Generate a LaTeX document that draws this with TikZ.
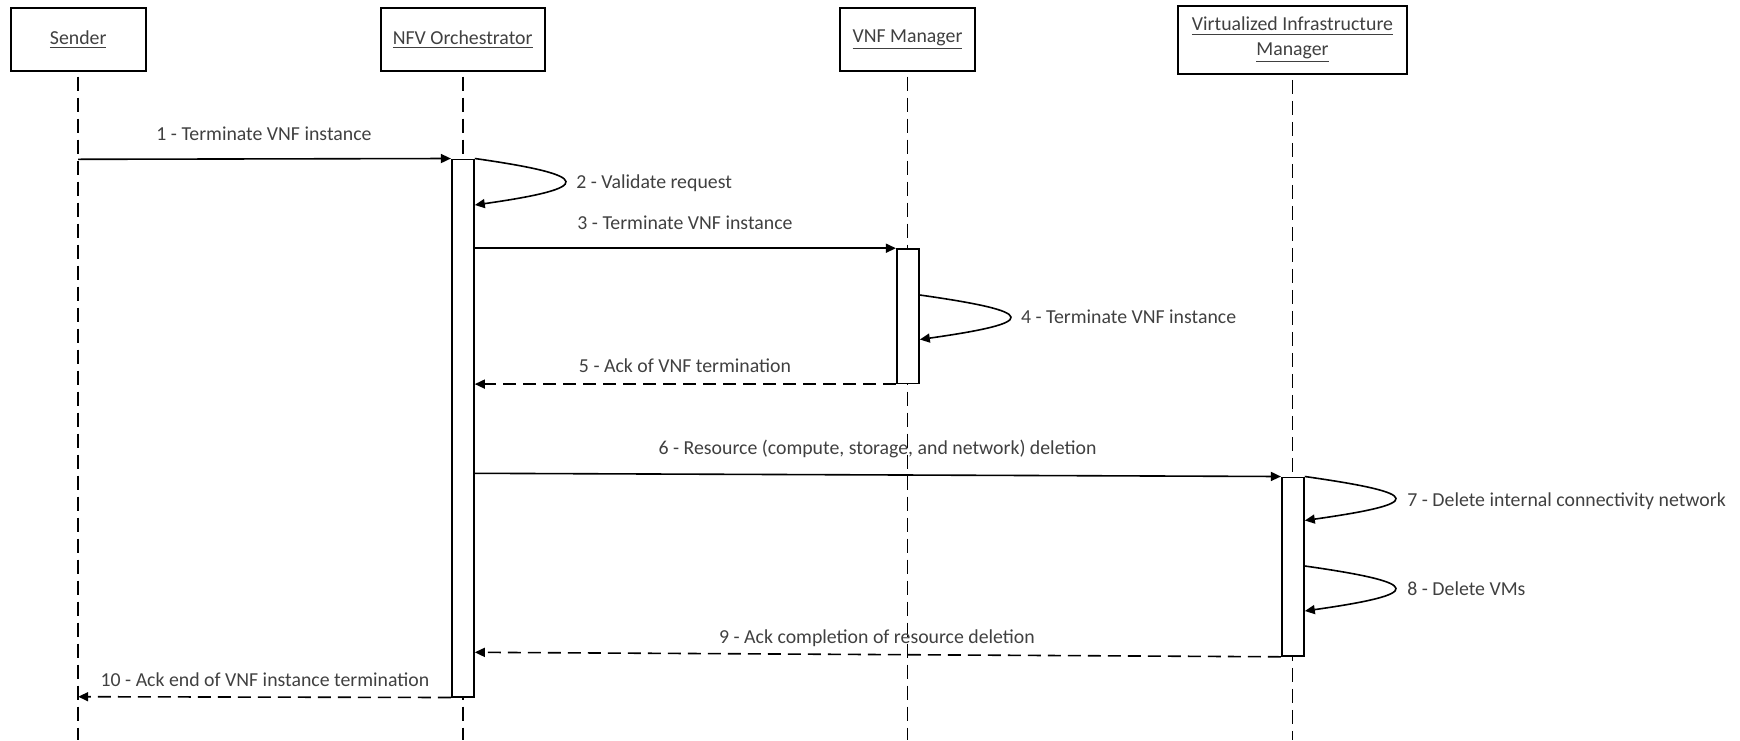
\documentclass[tikz,border=0pt]{standalone}
\usepackage{fontspec}
\setmainfont{Carlito}
\usetikzlibrary{arrows.meta}
\definecolor{txt}{RGB}{64,64,64}
\begin{document}
\begin{tikzpicture}[x=0.5pt,y=-0.5pt,
  font=\fontsize{9.9pt}{12.2pt}\selectfont,
  actor/.style={draw=black, line width=0.9pt, fill=white, text=txt, align=center, inner sep=0pt},
  lifeline/.style={draw=black, line width=0.8pt, dash pattern=on 7pt off 3.5pt, dash phase=8pt},
  actbar/.style={draw=black, line width=0.8pt, fill=white, minimum width=11.15pt, inner sep=0pt},
  msg/.style={draw=black, line width=0.8pt, -{Triangle[length=5pt,width=4.5pt]}},
  reply/.style={msg, dash pattern=on 6.5pt off 3.5pt},
  selfloop/.style={msg, to path={.. controls +(120,17) and +(120,-17) .. (\tikztotarget)}},
  lbl/.style={text=txt, inner sep=0pt, anchor=base},
  lblL/.style={text=txt, inner sep=0pt, anchor=base west},
]
\useasboundingbox (0,0) rectangle (1740,740);

% actors
\node[actor, minimum width=67.5pt, minimum height=31.2pt] (sender) at (78.2,39.5) {\underline{Sender}};
\node[actor, minimum width=82pt, minimum height=31.2pt] (nfvo) at (462.7,39.5) {\underline{NFV Orchestrator}};
\node[actor, minimum width=67.5pt, minimum height=31.2pt] (vnfm) at (907.5,39.5) {\underline{VNF Manager}};
\node[actor, minimum width=114.2pt, minimum height=34pt] (vim) at (1292.5,40) {\underline{Virtualized Infrastructure}\\\underline{Manager}};

% lifelines
\coordinate (sendEnd) at (sender.south |- 0,740);
\coordinate (nfvoEnd) at (nfvo.south |- 0,740);
\coordinate (vnfmEnd) at (vnfm.south |- 0,740);
\coordinate (vimEnd) at (vim.south |- 0,740);
\draw[lifeline] (sender.south) -- (sendEnd);
\draw[lifeline] (nfvo.south) -- (nfvoEnd);
\draw[lifeline] (vnfm.south) -- (vnfmEnd);
\draw[lifeline] (vim.south) -- (vimEnd);

% activation bars
\node[actbar, minimum height=268.7pt] (nact) at (462.85,428) {};
\node[actbar, minimum height=67.15pt] (vact) at (907.85,316.15) {};
\node[actbar, minimum height=89.35pt] (iact) at (1292.85,566.65) {};

% endpoints
\coordinate (s1) at (sender.south |- 0,159.3);
\coordinate (s10) at (sender.south |- 0,696.7);
\coordinate (m6) at (nact.east |- 0,473.3);
\coordinate (m9) at (nact.east |- 0,652.3);
\coordinate (l2a) at (nact.north east);
\coordinate (l2b) at (nact.east |- 0,205);
\coordinate (l4a) at (vact.east |- 0,295);
\coordinate (l4b) at (vact.east |- 0,339.5);
\coordinate (l7a) at (iact.north east);
\coordinate (l7b) at (iact.east |- 0,520.5);
\coordinate (l8a) at (iact.east |- 0,566);
\coordinate (l8b) at (iact.east |- 0,611);

% messages
\draw[msg] (s1) -- (nact.north west);
\draw[selfloop] (l2a) to (l2b);
\draw[msg] (nact.east |- vact.north) -- (vact.north west);
\draw[selfloop] (l4a) to (l4b);
\draw[reply] (vact.south west) -- (nact.east |- vact.south);
\draw[msg] (m6) -- (iact.north west);
\draw[selfloop] (l7a) to (l7b);
\draw[selfloop] (l8a) to (l8b);
\draw[reply] (iact.south west) -- (m9);
\draw[reply] (nact.south west) -- (s10);

% labels
\node[lbl] (t1) at (264,140.8) {1 - Terminate VNF instance};
\node[lblL] (t2) at (576,188.8) {2 - Validate request};
\node[lbl] (t3) at (685,229) {3 - Terminate VNF instance};
\node[lblL] (t4) at (1020.7,323) {4 - Terminate VNF instance};
\node[lbl] (t5) at (685,372.5) {5 - Ack of VNF termination};
\node[lbl] (t6) at (877.5,454.8) {6 - Resource (compute, storage, and network) deletion};
\node[lblL] (t7) at (1407,506.5) {7 - Delete internal connectivity network};
\node[lblL] (t8) at (1407,595.5) {8 - Delete VMs};
\node[lbl] (t9) at (877,643.2) {9 - Ack completion of resource deletion};
\node[lbl] (t10) at (265,686.5) {10 - Ack end of VNF instance termination};
\end{tikzpicture}
\end{document}
